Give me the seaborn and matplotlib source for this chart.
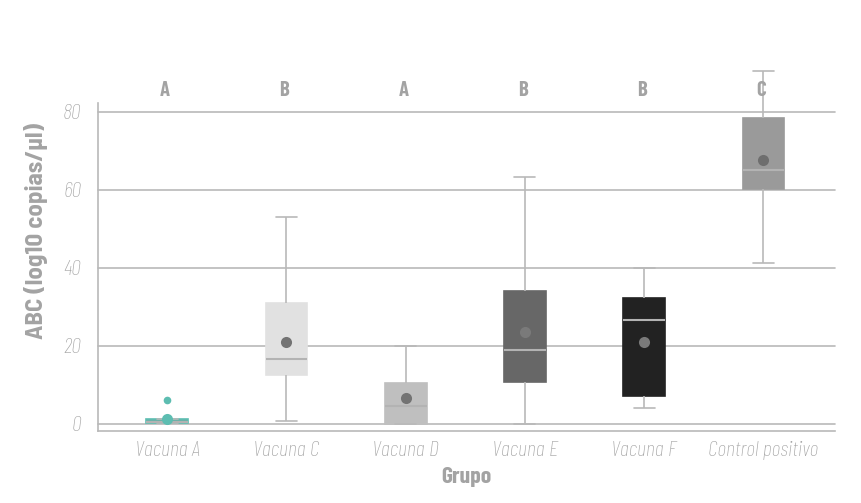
import pandas as pd
import seaborn as sns
import matplotlib.pyplot as plt

groups = ["Vacuna A", "Vacuna C", "Vacuna D", "Vacuna E", "Vacuna F", "Control positivo"]
letters = ["A", "B", "A", "B", "B", "C"]
# five-number summaries
whisker_low = [0.2, 0.8, 0.0, 0.0, 4.1, 41.3]
q1 = [0.2, 12.6, 0.0, 10.8, 7.2, 60.3]
median = [0.5, 16.7, 4.6, 19.0, 26.7, 65.0]
q3 = [1.2, 31.0, 10.5, 34.0, 32.3, 78.5]
whisker_high = [1.2, 53.0, 20.0, 63.3, 40.0, 90.5]
means = [1.3, 21.0, 6.7, 23.6, 21.0, 67.7]
outlier_groups = ["Vacuna A"]
outlier_values = [6.2]

box_colors = ["#5dbdb1", "#e1e1e1", "#bfbfbf", "#676767", "#222222", "#9a9a9a"]
mean_colors = ["#5dbdb1", "#737373", "#737373", "#7a7a7a", "#7a7a7a", "#6e6e6e"]
GRAY = "#a3a3a3"
LINE = "#b9b9b9"

rows = []
for g, a, b, c, d, e in zip(groups, whisker_low, q1, median, q3, whisker_high):
    for v in (a, b, c, d, e):
        rows.append({"Grupo": g, "valor": v})
df = pd.DataFrame(rows)

sns.set_style("white")
plt.rcParams["font.family"] = ["Barlow Condensed", "DejaVu Sans"]

fig = plt.figure(figsize=(8.61, 5.03), dpi=100)
ax = fig.add_axes([0.1138, 0.1431, 0.856, 0.652])

ax.set_ylim(-1.8, 82.2)
for yv in [0, 20, 40, 60, 80]:
    ax.axhline(yv, color=LINE, lw=1.2, zorder=0)

sns.boxplot(data=df, x="Grupo", y="valor", hue="Grupo", order=groups,
            palette=box_colors, whis=(0, 100), width=0.35, legend=False,
            linecolor=LINE, linewidth=1.2, fliersize=0, ax=ax,
            medianprops={"color": "#b3b3b3", "linewidth": 1.5})
for patch, col in zip(ax.patches, box_colors):
    patch.set_edgecolor(col)
    patch.set_clip_on(False)
for line in ax.lines:
    line.set_clip_on(False)

sns.stripplot(x=groups, y=means, hue=groups, order=groups, palette=mean_colors,
              jitter=False, size=8, linewidth=0, legend=False, ax=ax, zorder=5)
sns.stripplot(x=outlier_groups, y=outlier_values, order=groups, color=box_colors[0],
              jitter=False, size=5.5, linewidth=0, legend=False, ax=ax, zorder=5)

for i, letter in enumerate(letters):
    ax.text(i - 0.02, 85.4, letter, ha="center", va="center", fontsize=15,
            fontweight="bold", color=GRAY, clip_on=False)

ax.set_xlim(-0.58, 5.6)
ax.set_yticks([0, 20, 40, 60, 80])
ax.tick_params(axis="y", length=0, pad=12, labelsize=16, labelcolor=GRAY)
ax.tick_params(axis="x", length=0, pad=7, labelsize=16, labelcolor=GRAY)
for lab in ax.get_xticklabels() + ax.get_yticklabels():
    lab.set_fontstyle("italic")
    lab.set_fontweight("light")

ax.set_xlabel("Grupo", fontsize=17, fontweight="bold", color=GRAY, labelpad=5)
ax.set_ylabel("ABC (log10 copias/µl)", fontsize=18, fontweight="bold", color=GRAY,
              family=["Barlow Semi Condensed", "DejaVu Sans"])
ax.yaxis.set_label_coords(-0.068, 0.61)

sns.despine(ax=ax, top=True, right=True)
for side in ["left", "bottom"]:
    ax.spines[side].set_color(LINE)
    ax.spines[side].set_linewidth(1.2)

fig.savefig("out.png", dpi=100)
